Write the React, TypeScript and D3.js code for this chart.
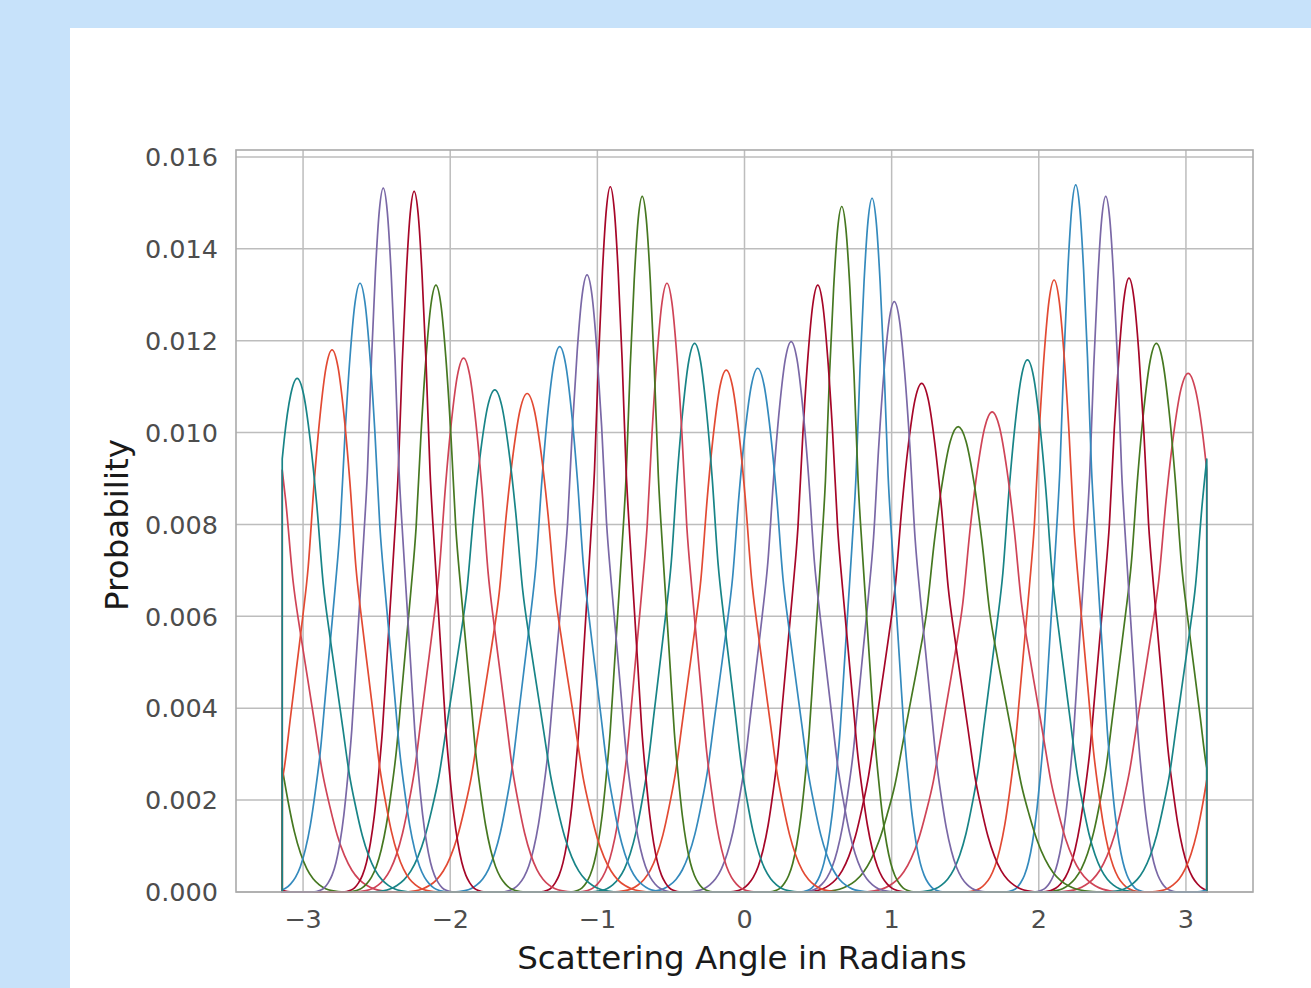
import React from "react";
import * as d3 from "d3";

// peaks, left to right
const CENTERS = [
  -3.04, -2.803, -2.613, -2.455, -2.245, -2.097, -1.909, -1.697, -1.477, -1.256, -1.07,
  -0.912, -0.695, -0.527, -0.339, -0.124, 0.09, 0.317, 0.498, 0.661, 0.867, 1.018,
  1.204, 1.452, 1.683, 1.923, 2.104, 2.251, 2.455, 2.613, 2.799, 3.015,
];
const PEAKS = [
  0.01118, 0.0118, 0.01325, 0.01532, 0.01525, 0.01321, 0.01162, 0.01093, 0.01085, 0.01187, 0.01343,
  0.01535, 0.01514, 0.01325, 0.01194, 0.01136, 0.0114, 0.01198, 0.01321, 0.01492, 0.0151, 0.01285,
  0.01107, 0.01013, 0.01045, 0.01158, 0.01332, 0.01539, 0.01514, 0.01336, 0.01194, 0.01129,
];
// width of each bump (radians)
const WIDTHS = [
  0.177, 0.162, 0.135, 0.107, 0.108, 0.135, 0.166, 0.19, 0.19, 0.161, 0.132,
  0.107, 0.109, 0.135, 0.159, 0.172, 0.171, 0.158, 0.135, 0.111, 0.109, 0.141,
  0.18, 0.215, 0.2, 0.167, 0.134, 0.107, 0.109, 0.133, 0.17, 0.2,
];
const COLOR_KEYS = [
  "teal", "orange", "blue", "purple", "darkred", "green", "red", "teal", "orange", "blue", "purple",
  "darkred", "green", "red", "teal", "orange", "blue", "purple", "darkred", "green", "blue", "purple",
  "darkred", "green", "red", "teal", "orange", "blue", "purple", "darkred", "green", "red",
];
const PALETTE: Record<string, string> = {
  teal: "#188487",
  orange: "#E24A33",
  blue: "#348ABD",
  purple: "#7A68A6",
  darkred: "#A60628",
  green: "#467821",
  red: "#CF4457",
};

// shape of one bump, offset in widths -> fraction of peak
const PROFILE_U = [0, 0.25, 0.5, 0.75, 1, 1.25, 1.5, 1.75, 2, 2.25, 2.5, 2.75, 3, 3.25, 3.5, 3.75, 4, 4.5];
const PROFILE_F = [1, 0.968, 0.88, 0.755, 0.6, 0.5, 0.41, 0.32, 0.23, 0.165, 0.11, 0.07, 0.042, 0.024, 0.013, 0.006, 0.0025, 0];

const X_TICKS = [-3, -2, -1, 0, 1, 2, 3];
const Y_TICKS = [0, 0.002, 0.004, 0.006, 0.008, 0.01, 0.012, 0.014, 0.016];

const W = 1311;
const H = 988;
const left = 236, right = 1253, top = 150, bottom = 892;
const PI = Math.PI;

const x = d3.scaleLinear().domain([-PI - 0.1 * PI, PI + 0.1 * PI]).range([left, right]);
const y = d3.scaleLinear().domain([0, 0.01615]).range([bottom, top]);

const fmtY = (v: number) => v.toFixed(3);
const fmtX = (v: number) => (v < 0 ? "\u2212" + Math.abs(v) : String(v));

const uFull = [...PROFILE_U.slice(1).reverse().map((u) => -u), ...PROFILE_U];
const fFull = [...PROFILE_F.slice(1).reverse(), ...PROFILE_F];

function curvePath(c: number, p: number, w: number) {
  const raw = uFull.map((u, i) => [c + u * w, p * fFull[i]] as [number, number]);
  const copies = [-1, 0, 1].map((k) => raw.map(([a, b]) => [a + 2 * PI * k, b] as [number, number]));
  const valueAt = (xv: number) => {
    let s = 0;
    copies.forEach((pts) => {
      for (let i = 0; i < pts.length - 1; i++) {
        if (pts[i][0] <= xv && pts[i + 1][0] >= xv) {
          const t = (xv - pts[i][0]) / (pts[i + 1][0] - pts[i][0]);
          s += pts[i][1] + t * (pts[i + 1][1] - pts[i][1]);
          break;
        }
      }
    });
    return s;
  };
  const inside = copies
    .flat()
    .filter(([a]) => a > -PI + 1e-4 && a < PI - 1e-4)
    .sort((a, b) => a[0] - b[0]);
  const v0 = valueAt(-PI);
  const v1 = valueAt(PI);
  const pts: [number, number][] = [[-PI, v0], ...inside, [PI, v1]];
  const line = d3
    .line<[number, number]>()
    .x((d) => x(d[0]))
    .y((d) => y(d[1]))
    .curve(d3.curveMonotoneX);
  const mid = (line(pts) || "").replace(/^M/, "L");
  return `M${x(-PI)},${y(0)}${mid}L${x(PI)},${y(0)}`;
}

export default function App() {
  const tickFont = 25.5;
  const labelFont = 32.5;
  const order = CENTERS.map((_, i) => i).reverse();
  return (
    <div style={{ position: "fixed", left: 0, top: 0, width: W, height: H }}>
      <svg width={W} height={H} style={{ display: "block" }} fontFamily="DejaVu Sans">
        <rect x={0} y={0} width={W} height={H} fill="#C7E2FA" />
        <rect x={70} y={28} width={W - 70} height={H - 28} fill="#ffffff" />
        <rect x={left} y={top} width={right - left} height={bottom - top} fill="#ffffff" />
        {X_TICKS.map((t) => (
          <line key={"gx" + t} x1={x(t)} x2={x(t)} y1={top} y2={bottom} stroke="#bdbdbd" strokeWidth={1.5} />
        ))}
        {Y_TICKS.map((t) => (
          <line key={"gy" + t} x1={left} x2={right} y1={y(t)} y2={y(t)} stroke="#bdbdbd" strokeWidth={1.5} />
        ))}
        <g fill="none" strokeWidth={1.7} strokeLinejoin="round">
          {order.map((i) => (
            <path key={i} d={curvePath(CENTERS[i], PEAKS[i], WIDTHS[i])} stroke={PALETTE[COLOR_KEYS[i]]} />
          ))}
        </g>
        <rect x={left} y={top} width={right - left} height={bottom - top} fill="none" stroke="#aaaaaa" strokeWidth={1.6} />
        <g fill="#4d4d4d" fontSize={tickFont}>
          {Y_TICKS.map((t) => (
            <text key={"ty" + t} x={218} y={y(t) + tickFont * 0.36} textAnchor="end">
              {fmtY(t)}
            </text>
          ))}
          {X_TICKS.map((t) => (
            <text key={"tx" + t} x={x(t)} y={928} textAnchor="middle">
              {fmtX(t)}
            </text>
          ))}
        </g>
        <g fill="#1a1a1a" fontSize={labelFont}>
          <text x={742} y={969} textAnchor="middle">
            Scattering Angle in Radians
          </text>
          <text transform={`translate(128,525) rotate(-90)`} textAnchor="middle">
            Probability
          </text>
        </g>
      </svg>
    </div>
  );
}
